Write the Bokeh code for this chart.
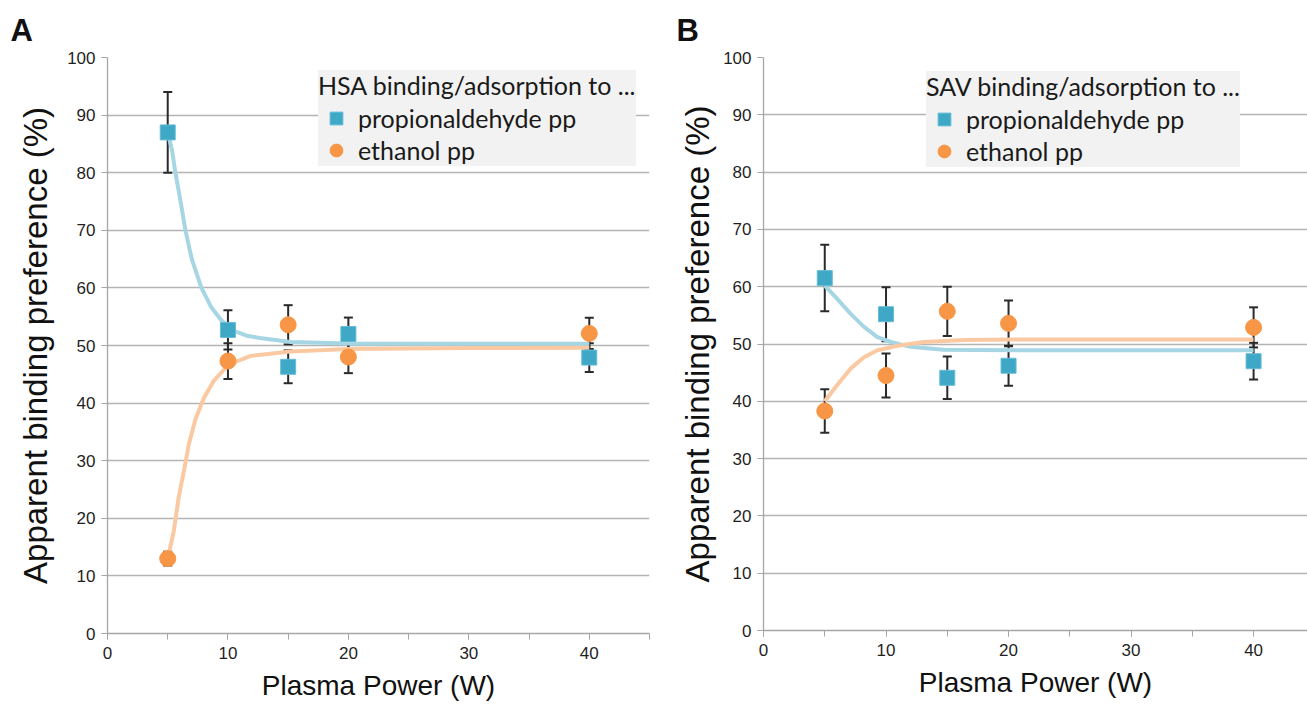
from bokeh.plotting import figure
from bokeh.layouts import row
from bokeh.models import (ColumnDataSource, Whisker, TeeHead, Legend, LegendItem,
                          FixedTicker, Range1d, Title)
from bokeh.embed import file_html
from bokeh.resources import INLINE

# ---------------- data ----------------
power = [5, 10, 15, 20, 40]

# Panel A (HSA)
hsa_prop = [87.0, 52.7, 46.3, 52.0, 47.9]
hsa_prop_err = [7.0, 3.4, 2.85, 2.85, 2.5]
hsa_eth = [13.0, 47.3, 53.6, 48.0, 52.1]
hsa_eth_err = [1.2, 3.1, 3.4, 2.8, 2.7]

# trend curves
hsa_prop_fit_x = [5, 5.35, 5.64, 6.06, 6.47, 7.0, 7.8, 8.6, 9.45, 10.45, 11.55, 12.65, 15.2, 20, 30, 40]
hsa_prop_fit_y = [87, 84.0, 80.0, 75.1, 70.0, 65.0, 60.0, 56.7, 54.4, 52.6, 51.7, 51.3, 50.6, 50.35, 50.3, 50.3]
hsa_eth_fit_x = [5, 5.5, 5.9, 6.33, 6.75, 7.3, 8.0, 8.8, 10.07, 11.9, 15.2, 20, 30, 40]
hsa_eth_fit_y = [13, 17.7, 23.5, 28.1, 32.8, 37.2, 40.9, 43.8, 46.7, 48.2, 48.95, 49.4, 49.55, 49.6]

# Panel B (SAV)
sav_prop = [61.5, 55.2, 44.1, 46.2, 47.0]
sav_prop_err = [5.8, 4.7, 3.7, 3.5, 3.2]
sav_eth = [38.3, 44.5, 55.7, 53.6, 52.9]
sav_eth_err = [3.8, 3.85, 4.3, 4.0, 3.5]

sav_prop_fit_x = [5, 6.0, 7.1, 8.2, 9.3, 10.4, 12.0, 14.7, 17.4, 25, 40]
sav_prop_fit_y = [60.2, 57.9, 55.3, 53.0, 51.2, 50.35, 49.5, 49.0, 48.95, 48.9, 48.9]
sav_eth_fit_x = [5, 6.0, 7.1, 8.2, 9.3, 11.2, 13.1, 16.4, 20.5, 30, 40]
sav_eth_fit_y = [40, 42.8, 45.7, 47.7, 48.9, 49.8, 50.35, 50.7, 50.8, 50.8, 50.8]

x_ticks = [0, 10, 20, 30, 40]
x_minor = [0, 5, 10, 15, 20, 25, 30, 35, 40, 45]
y_ticks = [0, 10, 20, 30, 40, 50, 60, 70, 80, 90, 100]

x_label = "Plasma Power (W)"
y_label = "Apparent binding preference (%)"
series_names = ["propionaldehyde pp", "ethanol pp"]

# ---------------- style ----------------
BLUE = "#3FA8C7"
BLUE_EDGE = "#66BCD6"
ORANGE = "#F79646"
BLUE_FIT = "#A6D6E4"
ORANGE_FIT = "#FBC9A1"
GRID = "#B4B4B4"
AXIS = "#A6A6A6"
ERR = "#2A2A2A"
TICK_FONT = "Liberation Sans"
LEG_FONT = "Lato"


def make_panel(fw, fh, left, right, top, bottom, xmax,
               prop, prop_err, eth, eth_err,
               pfx, pfy, efx, efy, title, letter, letter_offset, leg_x, leg_y,
               ylab_standoff):
    p = figure(frame_width=fw, frame_height=fh, output_backend="svg", toolbar_location=None,
               x_range=Range1d(0, xmax), y_range=Range1d(0, 100),
               min_border_left=left, min_border_right=right,
               min_border_top=top, min_border_bottom=bottom)
    p.outline_line_color = None
    p.background_fill_color = "white"
    p.border_fill_color = "white"

    # panel letter as title
    p.title = Title(text=letter, align="left", offset=letter_offset,
                    text_font=TICK_FONT, text_font_size="31px",
                    text_font_style="bold", text_color="#111111", standoff=20)

    # axes
    p.xaxis.ticker = FixedTicker(ticks=x_ticks, minor_ticks=x_minor)
    p.yaxis.ticker = FixedTicker(ticks=y_ticks, minor_ticks=[])
    for ax in (p.xaxis, p.yaxis):
        ax.axis_line_color = AXIS
        ax.axis_line_width = 1.3
        ax.major_tick_line_color = AXIS
        ax.minor_tick_line_color = AXIS
        ax.major_tick_in = 0
        ax.major_tick_out = 6
        ax.minor_tick_in = 0
        ax.minor_tick_out = 6
        ax.major_label_text_font = TICK_FONT
        ax.major_label_text_font_size = "17px"
        ax.major_label_text_color = "#1f1f1f"
        ax.axis_label_text_font = TICK_FONT
        ax.axis_label_text_font_style = "normal"
        ax.axis_label_text_color = "#111111"
    p.xaxis.axis_label = x_label
    p.xaxis.axis_label_text_font_size = "28px"
    p.xaxis.axis_label_standoff = 8
    p.xaxis.major_label_standoff = 7
    p.yaxis.axis_label = y_label
    p.yaxis.axis_label_text_font_size = "33px"
    p.yaxis.axis_label_standoff = ylab_standoff
    p.yaxis.major_label_standoff = 6

    p.xgrid.grid_line_color = None
    p.ygrid.grid_line_color = GRID
    p.ygrid.grid_line_width = 1.5

    # error bars
    src_p = ColumnDataSource(dict(x=power, y=prop,
                                  up=[v + e for v, e in zip(prop, prop_err)],
                                  lo=[v - e for v, e in zip(prop, prop_err)]))
    src_e = ColumnDataSource(dict(x=power, y=eth,
                                  up=[v + e for v, e in zip(eth, eth_err)],
                                  lo=[v - e for v, e in zip(eth, eth_err)]))
    for src in (src_p, src_e):
        w = Whisker(source=src, base="x", upper="up", lower="lo",
                    line_color=ERR, line_width=2,
                    upper_head=TeeHead(size=9, line_color=ERR, line_width=2),
                    lower_head=TeeHead(size=9, line_color=ERR, line_width=2))
        p.add_layout(w)

    # fitted curves
    p.line(pfx, pfy, line_color=BLUE_FIT, line_width=4, line_join="round")
    p.line(efx, efy, line_color=ORANGE_FIT, line_width=4, line_join="round")

    # markers
    r_sq = p.scatter("x", "y", source=src_p, marker="square", size=15,
                     fill_color=BLUE, line_color=BLUE_EDGE, line_width=1)
    r_ci = p.scatter("x", "y", source=src_e, marker="circle", size=16,
                     fill_color=ORANGE, line_color=ORANGE, line_width=1)

    legend = Legend(items=[LegendItem(label=series_names[0], renderers=[r_sq]),
                           LegendItem(label=series_names[1], renderers=[r_ci])],
                    title=title, location=(leg_x, leg_y))
    legend.title_text_font = LEG_FONT
    legend.title_text_font_size = "25px"
    legend.title_text_font_style = "normal"
    legend.title_text_color = "#1a1a1a"
    legend.title_standoff = 2
    legend.label_text_font = LEG_FONT
    legend.label_text_font_size = "25px"
    legend.label_text_color = "#1a1a1a"
    legend.glyph_width = 36
    legend.glyph_height = 32
    legend.label_height = 32
    legend.label_standoff = 4
    legend.spacing = 0
    legend.padding = 10
    legend.margin = 0
    legend.background_fill_color = "#F2F2F2"
    legend.background_fill_alpha = 1
    legend.border_line_color = None
    p.add_layout(legend, "center")
    return p


p1 = make_panel(542, 576, 107, 6, 57, 73, 45,
                hsa_prop, hsa_prop_err, hsa_eth, hsa_eth_err,
                hsa_prop_fit_x, hsa_prop_fit_y, hsa_eth_fit_x, hsa_eth_fit_y,
                "HSA binding/adsorption to ...", "A", -97, 211, 467, 10)
p2 = make_panel(544, 573, 108, 0, 56, 77, 44.4,
                sav_prop, sav_prop_err, sav_eth, sav_eth_err,
                sav_prop_fit_x, sav_prop_fit_y, sav_eth_fit_x, sav_eth_fit_y,
                "SAV binding/adsorption to ...", "B", -87, 163, 463, 4)

layout = row(p1, p2)
open("out.html", "w").write(file_html(layout, INLINE))
